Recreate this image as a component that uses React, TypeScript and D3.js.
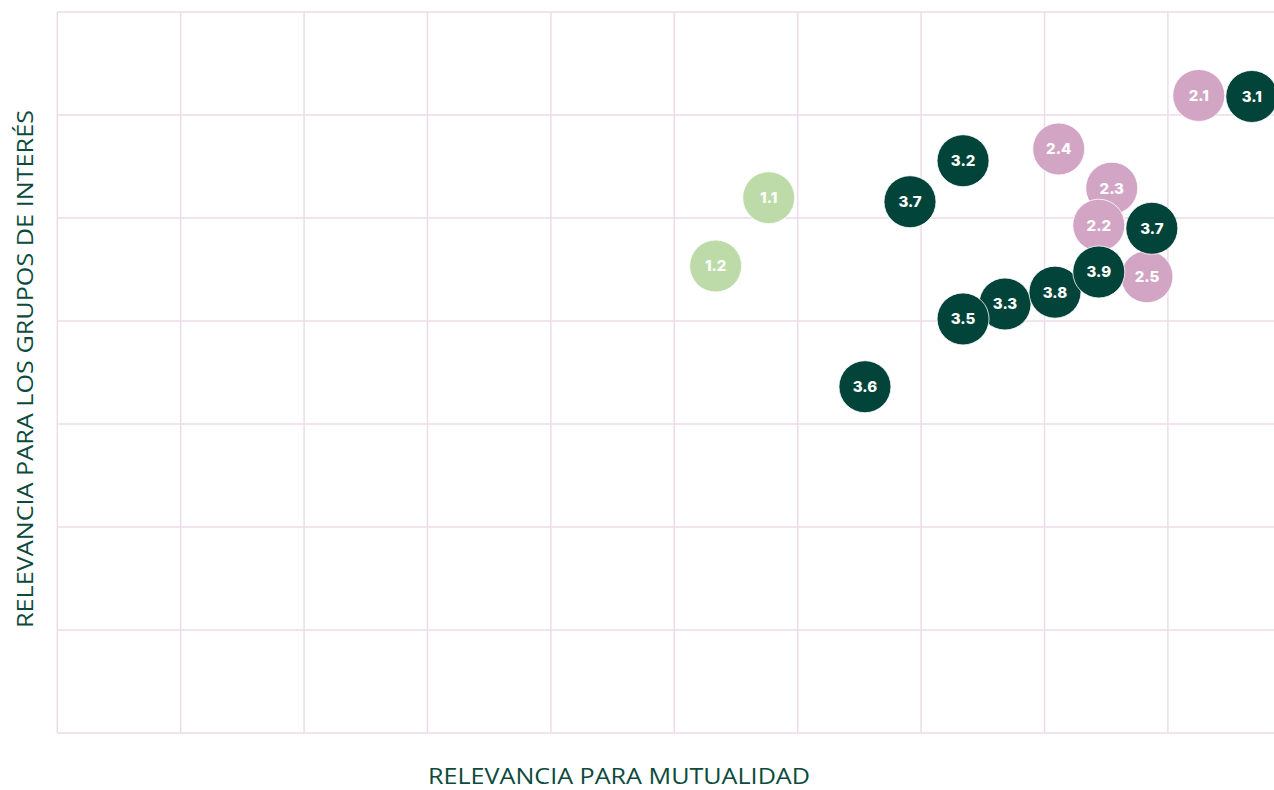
import React from "react";
import * as d3 from "d3";

// bubble labels, positions (grid units) and group
const labels = ["2.1", "2.4", "2.3", "2.2", "2.5", "1.1", "1.2", "3.1", "3.2", "3.3", "3.5", "3.6", "3.7", "3.7", "3.8", "3.9"];
const xValues = [9.25, 8.115, 8.545, 8.44, 8.83, 5.765, 5.335, 9.68, 7.34, 7.68, 7.34, 6.545, 6.91, 8.87, 8.085, 8.44];
const yValues = [6.19, 5.67, 5.29, 4.93, 4.43, 5.197, 4.534, 6.18, 5.556, 4.165, 4.02, 3.362, 5.158, 4.9, 4.28, 4.476];
const groups = ["2", "2", "2", "2", "2", "1", "1", "3", "3", "3", "3", "3", "3", "3", "3", "3"];

const xTicks = d3.range(0, 11);
const yTicks = d3.range(0, 8);

const colors: Record<string, string> = {
  "1": "#bddba8",
  "2": "#d3a5c5",
  "3": "#03443a",
};

const App = () => {
  const width = 1274;
  const height = 790;

  const x = d3.scaleLinear().domain([0, 10]).range([57.3, 1291.3]);
  const y = d3.scaleLinear().domain([0, 7]).range([733, 12]);

  const points = labels.map((l, i) => ({ label: l, x: xValues[i], y: yValues[i], g: groups[i] }));

  return (
    <svg
      width={width}
      height={height}
      style={{ position: "absolute", left: 0, top: 0, background: "#fff" }}
    >
      {/* grid */}
      <g stroke="#eedbe9" strokeWidth={1.5}>
        {xTicks.map((t) => (
          <line key={"v" + t} x1={x(t)} x2={x(t)} y1={y(7)} y2={y(0)} />
        ))}
        {yTicks.map((t) => (
          <line key={"h" + t} x1={x(0)} x2={x(10)} y1={y(t)} y2={y(t)} />
        ))}
      </g>

      {/* bubbles */}
      <g>
        {points.map((d, i) => (
          <g key={i} transform={`translate(${x(d.x)},${y(d.y)})`}>
            <circle r={26} fill={colors[d.g]} stroke="#fff" strokeWidth={0.8} />
            <text
              textAnchor="middle"
              dy="0.36em"
              fill="#fff"
              fontFamily="Inter, 'Open Sans', sans-serif"
              fontWeight={800}
              fontSize={15}
            >
              {d.label}
            </text>
          </g>
        ))}
      </g>

      {/* axis titles */}
      <text
        x={619}
        y={784}
        textAnchor="middle"
        fill="#0b4a3d"
        fontFamily="'Open Sans', sans-serif"
        fontSize={21}
        textLength={382}
        lengthAdjust="spacingAndGlyphs"
      >
        RELEVANCIA PARA MUTUALIDAD
      </text>
      <text
        transform={`translate(33,369) rotate(-90)`}
        textAnchor="middle"
        fill="#0b4a3d"
        fontFamily="'Open Sans', sans-serif"
        fontSize={22}
        textLength={518}
        lengthAdjust="spacingAndGlyphs"
      >
        RELEVANCIA PARA LOS GRUPOS DE INTERÉS
      </text>
    </svg>
  );
};

export default App;
